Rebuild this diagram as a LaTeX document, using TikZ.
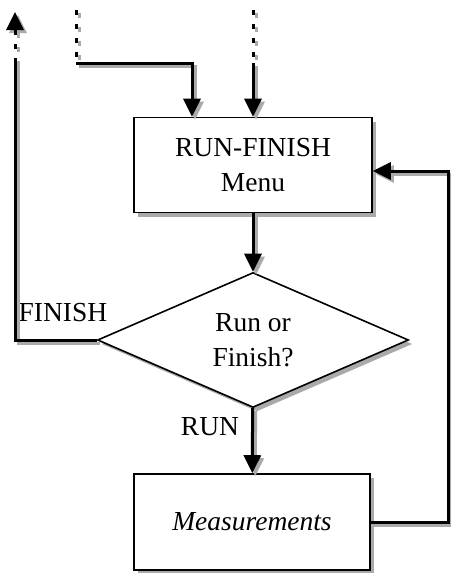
\documentclass[tikz,border=0pt]{standalone}
\usepackage{fontspec}
\setmainfont{Liberation Serif}
\usetikzlibrary{shapes.geometric,arrows.meta,shadows}
\definecolor{shgray}{RGB}{170,170,170}
\tikzset{
  boxshadow/.style={drop shadow={shadow xshift=4pt,shadow yshift=-4pt,fill=shgray,opacity=1}},
  procbox/.style={draw,line width=1.6pt,fill=white,boxshadow,minimum width=238pt,minimum height=95pt,align=center,font=\fontsize{27.5}{35}\selectfont},
  decision/.style={diamond,draw,line width=1.6pt,fill=white,boxshadow,minimum width=311pt,minimum height=135pt,inner sep=0pt,align=center,font=\fontsize{27.5}{35}\selectfont},
  lbl/.style={font=\fontsize{27.5}{30}\selectfont,inner sep=0pt},
  tip/.style={-{Triangle[length=18pt,width=17pt]}},
  shadowline/.style={draw=shgray,line width=3pt,transform canvas={shift={(3pt,-3pt)}}},
  mainline/.style={draw=black,line width=3pt},
  dots/.style={dash pattern=on 5pt off 9pt},
}
\begin{document}
\begin{tikzpicture}[x=1pt,y=-1pt]
\useasboundingbox (0,0) rectangle (450,573);
% nodes
\node[procbox] (menu) at (253,165) {RUN-FINISH\\Menu};
\node[decision] (dec) at (253,340) {Run or\\Finish?};
\node[procbox,minimum width=236pt,minimum height=96pt] (meas) at (252,522) {\itshape Measurements};
\node[lbl] (finlbl) at (63,313) {FINISH};
\node[lbl] (runlbl) at (210,427) {RUN};
% free ends
\coordinate (in1top) at (76,10);
\coordinate (in1mid) at (76,63);
\coordinate (in1c) at (192,63);
\coordinate (in2top) at (253,10);
\coordinate (in2mid) at (253,63);
\coordinate (outtop) at (15,12);
\coordinate (outmid) at (15,63);
\coordinate (outc) at (15,340);
\coordinate (rb) at (448,522);
\coordinate (rt) at (448,171);
% connectors (shadow first, then black)
\foreach \s in {shadowline,mainline}{
  \draw[\s,tip] (menu) -- (dec);
  \draw[\s,tip] (dec) -- (meas);
  \draw[\s,tip] (meas.east) -- (rb) -- (rt) -- (rt -| menu.east);
  \draw[\s] (dec.west) -- (outc) -- (outmid);
  \draw[\s,dots,tip] (outmid) -- (outtop);
  \draw[\s,dots] (in1top) -- (in1mid);
  \draw[\s,tip] (in1mid) -- (in1c) -- (in1c |- menu.north);
  \draw[\s,dots] (in2top) -- (in2mid);
  \draw[\s,tip] (in2mid) -- (menu.north);
}
\end{tikzpicture}
\end{document}
